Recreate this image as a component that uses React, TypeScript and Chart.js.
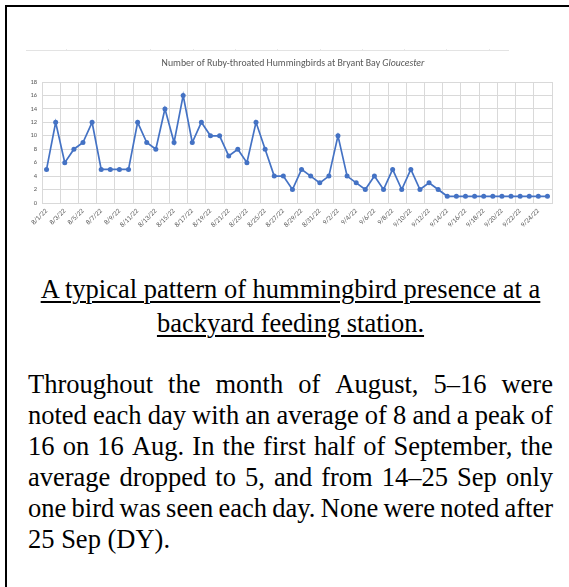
import React, { useEffect, useRef } from "react";
import { Chart, registerables } from "chart.js";

Chart.register(...registerables);

const dates = [
  "8/1/22", "8/2/22", "8/3/22", "8/4/22", "8/5/22", "8/6/22", "8/7/22", "8/8/22", "8/9/22", "8/10/22",
  "8/11/22", "8/12/22", "8/13/22", "8/14/22", "8/15/22", "8/16/22", "8/17/22", "8/18/22", "8/19/22", "8/20/22",
  "8/21/22", "8/22/22", "8/23/22", "8/24/22", "8/25/22", "8/26/22", "8/27/22", "8/28/22", "8/29/22", "8/30/22",
  "8/31/22", "9/1/22", "9/2/22", "9/3/22", "9/4/22", "9/5/22", "9/6/22", "9/7/22", "9/8/22", "9/9/22",
  "9/10/22", "9/11/22", "9/12/22", "9/13/22", "9/14/22", "9/15/22", "9/16/22", "9/17/22", "9/18/22", "9/19/22",
  "9/20/22", "9/21/22", "9/22/22", "9/23/22", "9/24/22", "9/25/22",
];

const augustCounts = [5, 12, 6, 8, 9, 12, 5, 5, 5, 5, 12, 9, 8, 14, 9, 16, 9, 12, 10, 10, 7, 8, 6, 12, 8, 4, 4, 2, 5, 4, 3];
const septemberCounts = [4, 10, 4, 3, 2, 4, 2, 5, 2, 5, 2, 3, 2, 1, 1, 1, 1, 1, 1, 1, 1, 1, 1, 1, 1];
const counts = [...augustCounts, ...septemberCounts];

const yTicks = [0, 2, 4, 6, 8, 10, 12, 14, 16, 18];

const titleMain = "Number of Ruby-throated Hummingbirds at Bryant Bay ";
const titleItalic = "Gloucester";

const captionLines = ["A typical pattern of hummingbird presence at a", "backyard feeding station."];
const paragraphLines = [
  "Throughout the month of August, 5\u201316 were",
  "noted each day with an average of 8 and a peak of",
  "16 on 16 Aug. In the first half of September, the",
  "average dropped to 5, and from 14\u201325 Sep only",
  "one bird was seen each day. None were noted after",
  "25 Sep (DY).",
];

const GRID = "#d9d9d9";
const LABEL = "#595959";
const BLUE = "#4472C4";
const CHART_FONT = '"Carlito", "Calibri", "Liberation Sans", sans-serif';

const titlePlugin = {
  id: "mixedTitle",
  afterDraw(chart: any) {
    const ctx = chart.ctx;
    ctx.save();
    const fontN = `9.8px ${CHART_FONT}`;
    const fontI = `italic 9.8px ${CHART_FONT}`;
    ctx.font = fontN;
    const w1 = ctx.measureText(titleMain).width;
    ctx.font = fontI;
    const w2 = ctx.measureText(titleItalic).width;
    const cx = 273;
    const y = 24;
    const x = cx - (w1 + w2) / 2;
    ctx.fillStyle = LABEL;
    ctx.textBaseline = "middle";
    ctx.textAlign = "left";
    ctx.font = fontN;
    ctx.fillText(titleMain, x, y);
    ctx.font = fontI;
    ctx.fillText(titleItalic, x + w1, y);
    ctx.restore();
  },
};

function HummingChart() {
  const ref = useRef<HTMLCanvasElement | null>(null);
  useEffect(() => {
    if (!ref.current) return;
    const chart = new Chart(ref.current, {
      type: "line",
      data: {
        labels: dates,
        datasets: [
          {
            data: counts,
            borderColor: BLUE,
            backgroundColor: BLUE,
            borderWidth: 1.7,
            pointRadius: 2.5,
            pointBackgroundColor: BLUE,
            pointBorderColor: BLUE,
            pointBorderWidth: 0,
            tension: 0,
          },
        ],
      },
      options: {
        responsive: false,
        animation: false,
        devicePixelRatio: 1,
        layout: { padding: { top: 42, right: 13, bottom: 2, left: 0 } },
        plugins: { legend: { display: false }, tooltip: { enabled: false }, title: { display: false } },
        scales: {
          x: {
            offset: true,
            grid: {
              offset: true,
              drawTicks: false,
              lineWidth: 1,
              color: (c: any) => (c.index === undefined || c.index % 2 === 0 ? GRID : "rgba(0,0,0,0)"),
            },
            border: { display: true, color: GRID, width: 1 },
            ticks: {
              autoSkip: false,
              minRotation: 45,
              maxRotation: 45,
              padding: 4,
              color: LABEL,
              font: { family: CHART_FONT, size: 7 },
              callback: (_v: any, i: number) => (i % 2 === 0 ? dates[i] : ""),
            },
            afterFit: (s: any) => {
              s.height = 40;
            },
          },
          y: {
            min: 0,
            max: 18,
            afterBuildTicks: (s: any) => {
              s.ticks = yTicks.map((v) => ({ value: v }));
            },
            grid: { color: GRID, drawTicks: false, lineWidth: 1 },
            border: { display: false },
            ticks: {
              padding: 5,
              color: LABEL,
              font: { family: CHART_FONT, size: 6.5 },
            },
            afterFit: (s: any) => {
              s.width = 22;
            },
          },
        },
      },
      plugins: [titlePlugin],
    } as any);
    return () => chart.destroy();
  }, []);
  return (
    <canvas
      ref={ref}
      width={545}
      height={205}
      style={{ position: "absolute", left: 20, top: 40, width: 545, height: 205 }}
    />
  );
}

export default function App() {
  const serif = '"Liberation Serif", "Times New Roman", Times, serif';
  const topMarks = Array.from({ length: 11 }, (_, i) => 65.7 + i * 42.3);
  return (
    <div
      style={{
        position: "absolute",
        left: 0,
        top: 0,
        width: 569,
        height: 587,
        overflow: "hidden",
        background: "#fff",
      }}
    >
      <div
        style={{
          position: "absolute",
          left: 5,
          top: 5,
          width: 700,
          height: 800,
          border: "2px solid #000",
          boxSizing: "border-box",
        }}
      />
      <div style={{ position: "absolute", left: 26, top: 50, width: 483, height: 1, background: "#e3e3e3" }} />
      {topMarks.map((x, i) => (
        <div
          key={i}
          style={{ position: "absolute", left: Math.round(x), top: 49, width: 1, height: 1, background: "#e8e8e8" }}
        />
      ))}
      <HummingChart />
      <div
        style={{
          position: "absolute",
          left: 20,
          top: 272,
          width: 541,
          fontFamily: serif,
          fontSize: 26.5,
          lineHeight: "34px",
          color: "#000",
          textAlign: "center",
        }}
      >
        {captionLines.map((l, i) => (
          <div key={i}>
            <span
              style={{
                textDecoration: "underline",
                textUnderlineOffset: "3px",
                textDecorationThickness: "1.5px",
              }}
            >
              {l}
            </span>
          </div>
        ))}
      </div>
      <div
        style={{
          position: "absolute",
          left: 28,
          top: 369,
          width: 525,
          fontFamily: serif,
          fontSize: 26.5,
          lineHeight: "31px",
          color: "#000",
        }}
      >
        {paragraphLines.map((l, i) =>
          i === paragraphLines.length - 1 ? (
            <div key={i} style={{ whiteSpace: "nowrap" }}>
              {l}
            </div>
          ) : (
            <div key={i} style={{ display: "flex", justifyContent: "space-between", whiteSpace: "nowrap" }}>
              {l.split(" ").map((w, j) => (
                <span key={j}>{w}</span>
              ))}
            </div>
          )
        )}
      </div>
    </div>
  );
}
